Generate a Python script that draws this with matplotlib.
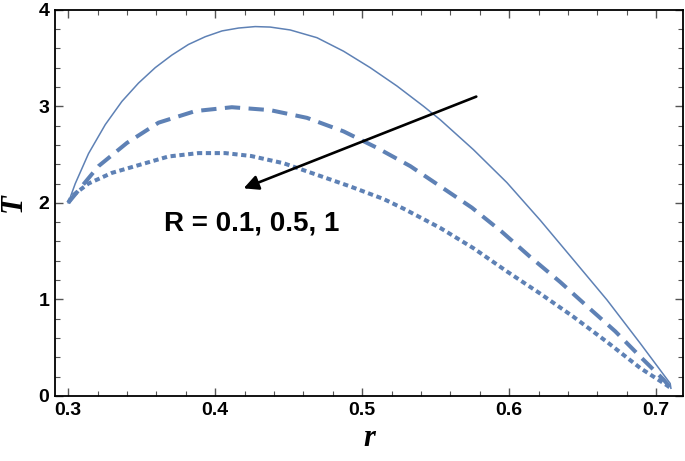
import matplotlib
matplotlib.use("Agg")
import matplotlib.pyplot as plt
from matplotlib.ticker import MultipleLocator

# veriler
r_solid = [0.300, 0.3048, 0.3138, 0.3252, 0.3365, 0.3478, 0.3592, 0.3705, 0.3818,
           0.3932, 0.4046, 0.4159, 0.4272, 0.4374, 0.451, 0.4692, 0.4873, 0.5054,
           0.5236, 0.5417, 0.5531, 0.5757, 0.5984, 0.6211, 0.6437, 0.6665, 0.6891,
           0.7095, 0.710]
T_solid = [2.00, 2.20, 2.51, 2.81, 3.05, 3.24, 3.40, 3.53, 3.64,
           3.72, 3.78, 3.81, 3.825, 3.82, 3.79, 3.71, 3.57, 3.40,
           3.21, 3.00, 2.86, 2.55, 2.21, 1.82, 1.41, 0.995, 0.546,
           0.13, 0.08]

r_dash = [0.300, 0.307, 0.3206, 0.3399, 0.3614, 0.3864, 0.4113, 0.4374, 0.4624,
          0.4873, 0.510, 0.5327, 0.5537, 0.5746, 0.595, 0.6143, 0.6347, 0.6529,
          0.6721, 0.6903, 0.705, 0.710]
T_dash = [2.00, 2.13, 2.38, 2.62, 2.83, 2.95, 2.99, 2.96, 2.88,
          2.74, 2.57, 2.38, 2.165, 1.95, 1.70, 1.44, 1.18, 0.93,
          0.67, 0.39, 0.17, 0.08]

r_dot = [0.300, 0.3025, 0.3138, 0.3297, 0.3478, 0.3682, 0.3886, 0.4068, 0.4244,
         0.4465, 0.4692, 0.4918, 0.5145, 0.5281, 0.5531, 0.5757, 0.5984, 0.6211,
         0.6437, 0.6665, 0.6891, 0.7073, 0.710]
T_dot = [2.00, 2.07, 2.20, 2.31, 2.39, 2.48, 2.515, 2.515, 2.485,
         2.41, 2.29, 2.17, 2.04, 1.94, 1.74, 1.53, 1.29, 1.06,
         0.82, 0.56, 0.29, 0.11, 0.08]

renk = "#5E81B5"

fig = plt.figure(figsize=(6.85, 4.61), dpi=100)
ax = fig.add_axes([0.0803, 0.141, 0.9163, 0.838])

ax.plot(r_solid, T_solid, color=renk, lw=1.1, solid_joinstyle="round")
ax.plot(r_dash, T_dash, color=renk, lw=2.9, dashes=(3.8, 2.1), dash_capstyle="butt")
ax.plot(r_dot, T_dot, color=renk, lw=2.9, dashes=(1.3, 0.9), dash_capstyle="butt")

# ok ve yazi
ax.annotate("", xy=(0.4193, 2.15), xytext=(0.5776, 3.10),
            arrowprops=dict(arrowstyle="-|>", color="black", lw=1.9,
                            mutation_scale=22, shrinkA=0, shrinkB=0))
ax.text(0.4245, 1.79, "R = 0.1, 0.5, 1", fontsize=20, fontweight="bold",
        family="Liberation Sans", ha="center", va="center")

ax.set_xlim(0.291, 0.718)
ax.set_ylim(0, 4)
ax.xaxis.set_major_locator(MultipleLocator(0.1))
ax.xaxis.set_minor_locator(MultipleLocator(0.02))
ax.yaxis.set_major_locator(MultipleLocator(1))
ax.yaxis.set_minor_locator(MultipleLocator(0.2))
ax.set_xticks([0.3, 0.4, 0.5, 0.6, 0.7])
ax.set_xticklabels(["0.3", "0.4", "0.5", "0.6", "0.7"])
ax.set_yticks([0, 1, 2, 3, 4])
ax.set_yticklabels(["0", "1", "2", "3", "4"])

ax.tick_params(which="both", direction="in", top=True, right=True, color="#555555")
ax.tick_params(which="major", length=6, width=1.0, labelsize=14, pad=4)
ax.tick_params(which="minor", length=3.5, width=0.8)
for lab in ax.get_xticklabels() + ax.get_yticklabels():
    lab.set_fontweight("bold")
    lab.set_family("Liberation Sans")
for s in ax.spines.values():
    s.set_linewidth(1.3)
    s.set_color("black")

ax.set_xlabel("r", fontsize=22, family="Liberation Serif", style="italic",
              fontweight="bold", labelpad=4)
ax.set_ylabel("T", fontsize=22, family="Liberation Serif", style="italic",
              fontweight="bold", labelpad=8)

fig.savefig("out.png", dpi=100)
